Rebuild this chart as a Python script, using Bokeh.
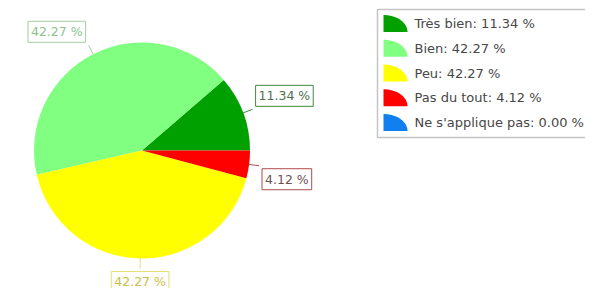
import numpy as np
from bokeh.plotting import figure
from bokeh.models import ColumnDataSource, Range1d
from bokeh.embed import file_html
from bokeh.resources import INLINE
from bokeh.core.properties import value

# ---- data ----
categories = ["Très bien", "Bien", "Peu", "Pas du tout", "Ne s'applique pas"]
percents = [11.34, 42.27, 42.27, 4.12, 0.00]
colors = ["#00a000", "#80ff80", "#ffff00", "#ff0000", "#1080f0"]
label_text_colors = ["#4f6f4f", "#8cc48c", "#c8c048", "#6f4f4f", "#4f6f9f"]
label_border_colors = ["#3f8a3f", "#a4cca4", "#e4e070", "#b04c4c", "#4080c0"]

# ---- layout (figure pixel coordinates, origin top-left) ----
W, H = 585, 288


def Y(py):
    return H - py


CX, CY, R = 141.5, Y(150.0), 108.0
LEAD = 10.0
FONT = value("DejaVu Sans")

p = figure(width=W, height=H, x_range=Range1d(0, W), y_range=Range1d(0, H),
           output_backend="svg", toolbar_location=None, min_border=0)
p.axis.visible = False
p.grid.visible = False
p.outline_line_color = None
p.background_fill_color = "white"
p.border_fill_color = "white"

# ---- pie ----
frac = np.array(percents) / 100.0
ends = np.cumsum(frac) * 2 * np.pi
starts = ends - frac * 2 * np.pi
keep = frac > 0
src = ColumnDataSource(dict(start=starts[keep], end=ends[keep],
                            color=np.array(colors)[keep]))
p.wedge(x=CX, y=CY, radius=R, start_angle="start", end_angle="end",
        fill_color="color", line_color=None, source=src)

# ---- slice labels ----
mid = (starts + ends) / 2
ex = CX + R * np.cos(mid)
ey = CY + R * np.sin(mid)
lx = CX + (R + LEAD) * np.cos(mid)
ly = CY + (R + LEAD) * np.sin(mid)
aligns, bases, xo, yo = [], [], [], []
PAD = 3
for m in mid:
    c, s = np.cos(m), np.sin(m)
    if c > 0.1:
        aligns.append("left"); xo.append(PAD)
    elif c < -0.1:
        aligns.append("right"); xo.append(-PAD)
    else:
        aligns.append("center"); xo.append(0)
    if s > 0:
        bases.append("bottom"); yo.append(-PAD)
    else:
        bases.append("top"); yo.append(PAD)

lab = ColumnDataSource(dict(
    ex=ex[keep], ey=ey[keep], lx=lx[keep], ly=ly[keep],
    text=[f"{v:.2f} %" for v in np.array(percents)[keep]],
    align=np.array(aligns)[keep], base=np.array(bases)[keep],
    xo=np.array(xo)[keep], yo=np.array(yo)[keep],
    tcol=np.array(label_text_colors)[keep], bcol=np.array(label_border_colors)[keep],
))
p.segment(x0="ex", y0="ey", x1="lx", y1="ly", line_color="bcol", line_width=1, source=lab)
p.text(x="lx", y="ly", text="text", text_align="align", text_baseline="base",
       x_offset="xo", y_offset="yo", text_color="tcol", text_font=FONT,
       text_font_size="12.5px", border_line_color="bcol", border_line_width=1,
       background_fill_color="white", padding=PAD, source=lab)

# ---- legend ----
ROW0, ROW_STEP = 23.0, 24.75
rows = ROW0 + ROW_STEP * np.arange(len(categories))
p.quad(left=377, right=640, top=Y(9), bottom=Y(137), fill_color="white",
       line_color="#c4c4c4", line_width=1.5)

t = np.linspace(0, np.pi / 2, 24)
xs, ys = [], []
for r in rows:
    bx, by = 383.0, Y(r + 8.5)
    xs.append([bx] + list(bx + 24 * np.cos(t)))
    ys.append([by] + list(by + 17 * np.sin(t)))
p.patches(xs=xs, ys=ys, fill_color=colors, line_color=None)

p.text(x=[414] * len(categories), y=[Y(r) for r in rows],
       text=[f"{c}: {v:.2f} %" for c, v in zip(categories, percents)],
       text_baseline="middle", text_align="left", text_font=FONT,
       text_font_size="13px", text_color="#474747")

open("out.html", "w").write(file_html(p, INLINE))
